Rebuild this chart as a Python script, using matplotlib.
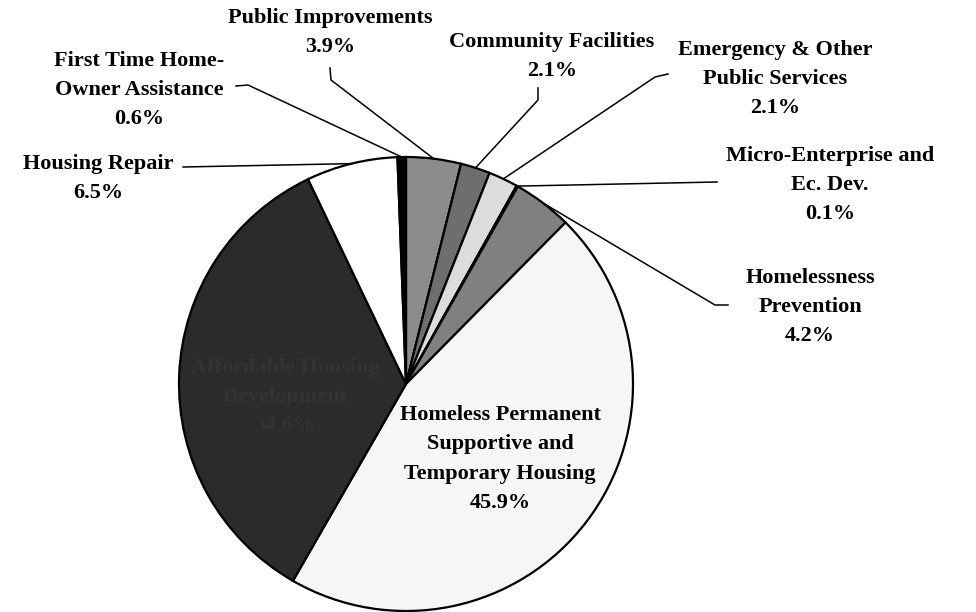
import numpy as np
import matplotlib
matplotlib.use("Agg")
from matplotlib import pyplot as plt

# slices, clockwise from 12 o'clock
categories = ["Public Improvements", "Community Facilities",
              "Emergency & Other Public Services", "Micro-Enterprise and Ec. Dev.",
              "Homelessness Prevention",
              "Homeless Permanent Supportive and Temporary Housing",
              "Affordable Housing Development", "Housing Repair",
              "First Time Home-Owner Assistance"]
label_text = ["Public Improvements", "Community Facilities",
              "Emergency & Other\nPublic Services", "Micro-Enterprise and\nEc. Dev.",
              "Homelessness\nPrevention",
              "Homeless Permanent\nSupportive and\nTemporary Housing",
              "Affordable Housing\nDevelopment", "Housing Repair",
              "First Time Home-\nOwner Assistance"]
shares = [3.9, 2.1, 2.1, 0.1, 4.2, 45.9, 34.6, 6.5, 0.6]
colors = ["#8c8c8c", "#6e6e6e", "#dcdcdc", "#bdbdbd", "#808080",
          "#f6f6f6", "#2b2b2b", "#ffffff", "#000000"]

# pie geometry in pixels
CX, CY, R = 406, 384, 227
W, H = 976, 612

def px(x, y):
    return (x - CX) / R, (CY - y) / R

# label centres (pixels) and leader elbows (pixels)
label_pos = [(330, 33), (552, 57), (775, 79), (830, 185), (810, 307),
             (500, 459), (285, 397), (98, 178), (139, 90)]
leaders = {0: [(330, 68), (331, 80)],
           1: [(538, 88), (538, 100)],
           2: [(668, 74), (655, 77)],
           3: [(717, 182)],
           4: [(728, 305), (715, 305)],
           7: [(183, 167)],
           8: [(236, 86), (248, 85)]}

fig = plt.figure(figsize=(W / 100, H / 100), dpi=100)
ax = fig.add_axes([0, 0, 1, 1])

wedges, _ = ax.pie(shares, startangle=90, counterclock=False, colors=colors,
                   radius=1, center=(0, 0),
                   wedgeprops=dict(edgecolor="black", linewidth=1.6))

font = dict(family=["Liberation Serif", "DejaVu Serif"], fontweight="bold",
            fontsize=16, ha="center", va="center", linespacing=1.6)

for i, w in enumerate(wedges):
    txt = label_text[i] + "\n" + f"{shares[i]:.1f}%"
    x, y = px(*label_pos[i])
    col = "#333333" if i == 6 else "black"
    ax.text(x, y, txt, color=col, zorder=5, **font)
    if i in leaders:
        mid = np.deg2rad((w.theta1 + w.theta2) / 2)
        pts = [px(*p) for p in leaders[i]] + [(np.cos(mid), np.sin(mid))]
        xs, ys = zip(*pts)
        ax.plot(xs, ys, color="black", linewidth=1.1, zorder=4)

x0, y0 = px(0, H)
x1, y1 = px(W, 0)
ax.set_xlim(x0, x1)
ax.set_ylim(y0, y1)
ax.set_aspect("auto")
ax.set_axis_off()

fig.savefig("out.png", dpi=100, facecolor="white")
